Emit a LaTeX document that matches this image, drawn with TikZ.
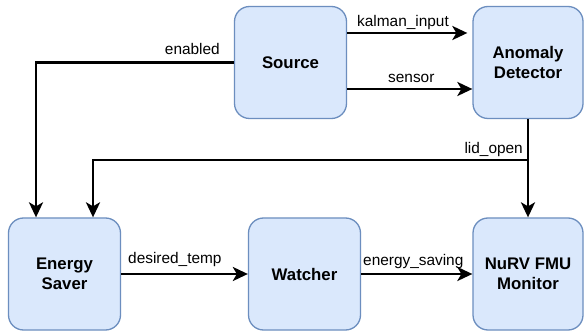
\documentclass[tikz,border=0pt]{standalone}
\usepackage{fontspec}
\setmainfont{Liberation Sans}
\usetikzlibrary{arrows.meta}
\definecolor{boxfill}{HTML}{DAE8FC}
\definecolor{boxline}{HTML}{6C8EBF}
\tikzset{
  blk/.style={draw=boxline, fill=boxfill, line width=1.3pt, rounded corners=15pt,
    minimum width=112pt, minimum height=112pt, align=center,
    font=\fontsize{16.8}{20.2}\selectfont\bfseries, inner sep=0pt},
  lbl/.style={inner sep=0pt, font=\fontsize{15.4}{18}\selectfont},
  arr/.style={line width=2.8pt, -{Stealth[length=15pt,width=14pt,inset=4pt]}},
  ln/.style={line width=2.8pt}
}
\begin{document}
\begin{tikzpicture}[x=1pt,y=-1pt]
\useasboundingbox[fill=white] (0,0) rectangle (584,331);
\node[blk] (src) at (290.5,62.5) {Source};
\node[blk, minimum width=110pt] (ad) at (528,62.5) {Anomaly\\Detector};
\node[blk] (es) at (64.5,274) {Energy\\Saver};
\node[blk] (wa) at (304.5,274) {Watcher};
\node[blk, minimum width=110pt] (nu) at (528,274) {NuRV FMU\\Monitor};
\coordinate (xe) at (36,0);
\coordinate (xl) at (93,0);
\coordinate (yk) at (0,33);
\coordinate (ys) at (0,89);
\coordinate (yl) at (0,160);
% enabled
\draw[arr] (src.west) -| (es.north -| xe);
\node[lbl, anchor=base east] (lenabled) at (220,55) {enabled};
% kalman_input
\draw[arr, shorten >=5pt] (src.east |- yk) -- (ad.west |- yk);
\node[lbl, anchor=base west] (lkalman) at (357,27) {kalman\_input};
% sensor
\draw[arr] (src.east |- ys) -- (ad.west |- ys);
\node[lbl, anchor=base west] (lsensor) at (388,83) {sensor};
% lid_open
\draw[arr] (ad.south) -- (nu.north);
\draw[arr] (ad.south |- yl) -| (es.north -| xl);
\node[lbl, anchor=base east] (llid) at (523,154) {lid\_open};
% desired_temp
\draw[arr] (es.east) -- (wa.west);
\node[lbl, anchor=base west] (ldes) at (128,264) {desired\_temp};
% energy_saving
\draw[arr] (wa.east) -- (nu.west);
\node[lbl, anchor=base west] (lenergy) at (363,266) {energy\_saving};
\end{tikzpicture}
\end{document}
